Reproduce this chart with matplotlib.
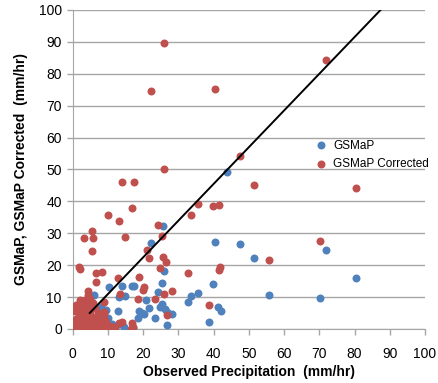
import numpy as np
import matplotlib
matplotlib.use("Agg")
import matplotlib.pyplot as plt

plt.rcParams['font.family'] = ['Liberation Sans', 'DejaVu Sans']

# GSMaP (blue)
gsmap_x = [43.7, 25.7, 22.1, 40.4, 47.4, 71.8, 51.5, 80.3, 55.8, 70.2,
           25.8, 10.4, 13.9, 16.8, 17.4, 25.3, 24.2, 39.8, 35.5, 33.5,
           32.6, 5.9, 14.9, 13.1, 20.8, 25.3, 24.8, 21.5, 26.2, 26.7,
           41.3, 42.0, 18.7, 19.5, 20.3, 18.4, 12.7, 28.1, 23.3, 38.8,
           26.8, 13.5, 14.5, 17.0, 3.0, 5.0, 7.5, 6.0, 8.0, 10.0,
           9.5, 11.0, 4.5, 2.0, 12.0]
gsmap_y = [49.3, 32.4, 27.1, 27.3, 26.7, 24.8, 22.4, 16.0, 10.7, 9.8,
           18.2, 13.1, 13.5, 13.6, 13.5, 14.4, 11.7, 14.0, 11.3, 10.2,
           8.5, 10.6, 10.3, 9.9, 9.0, 7.8, 7.0, 6.5, 6.2, 5.4,
           6.8, 5.6, 5.7, 4.9, 4.7, 3.3, 5.6, 4.6, 3.5, 2.2,
           1.3, 1.5, 0.6, 0.4, 4.0, 6.5, 4.5, 3.0, 7.0, 3.5,
           6.0, 1.5, 8.5, 5.0, 0.5]

# GSMaP Corrected (red)
corr_x = [25.8, 22.2, 40.4, 71.9, 47.5, 25.9, 14.0, 17.4, 51.5, 80.3,
          16.8, 35.4, 39.9, 41.5, 10.1, 13.2, 24.2, 33.5, 5.5, 3.1,
          5.8, 14.8, 25.3, 5.5, 21.0, 21.6, 70.2, 55.8, 25.5, 26.5,
          1.6, 2.1, 24.8, 41.9, 41.4, 6.6, 8.2, 32.6, 12.8, 18.7,
          6.5, 20.1, 19.9, 4.3, 28.1, 4.4, 13.3, 25.9, 23.4, 18.5,
          2.1, 3.0, 8.9, 38.8, 5.7, 26.8, 8.9, 8.8, 2.1, 13.0,
          14.0, 16.8, 16.5, 17.1,
          0.5, 1.0, 1.5, 2.0, 2.5, 3.0, 3.5, 4.0, 4.5, 5.0,
          5.5, 6.0, 6.5, 7.0, 7.5, 8.0, 8.5, 9.0, 9.5, 10.0,
          10.5, 11.0, 11.5, 12.0, 0.3, 0.8, 1.2, 1.8, 2.2, 2.8,
          3.3, 3.8, 4.2, 4.8, 5.2, 6.2, 6.8, 7.2, 1.0, 2.5,
          4.0, 0.5, 1.5, 3.5, 5.0, 2.0, 6.0, 7.8, 9.2, 0.2,
          3.0, 6.0, 9.0]
corr_y = [89.6, 74.7, 75.2, 84.3, 54.2, 50.2, 46.0, 46.2, 45.1, 44.1,
          37.8, 39.1, 38.7, 38.8, 35.6, 33.8, 32.7, 35.7, 30.8, 28.6,
          28.6, 28.7, 29.2, 24.5, 24.8, 22.4, 27.6, 21.6, 22.5, 21.0,
          19.5, 18.7, 19.1, 19.3, 18.6, 17.5, 18.0, 17.5, 15.9, 16.2,
          14.6, 13.3, 12.3, 11.9, 12.0, 10.8, 10.9, 11.0, 9.5, 9.4,
          9.1, 8.6, 8.5, 7.5, 8.0, 4.4, 5.4, 4.8, 6.5, 1.8,
          2.1, 2.0, 0.1, 0.5,
          0.2, 0.5, 1.0, 0.3, 1.5, 0.8, 2.2, 0.4, 1.2, 0.6,
          2.0, 0.3, 1.4, 0.8, 2.5, 0.2, 1.0, 0.5, 1.8, 0.3,
          0.8, 0.2, 0.5, 0.1, 1.8, 3.0, 2.5, 4.0, 3.3, 5.0,
          4.2, 6.0, 3.0, 5.5, 4.0, 6.5, 3.5, 5.0, 7.5, 7.0,
          7.5, 5.5, 6.0, 9.0, 9.3, 2.0, 2.8, 1.5, 2.8, 0.0,
          0.0, 0.0, 0.0]

# trend line
line_slope = 1.15
line_icept = -0.5
line_x0 = 4.8

blue = '#4F81BD'
red = '#C0504D'

fig = plt.figure(figsize=(4.39, 3.83), dpi=100)
ax = fig.add_axes([0.166, 0.141, 0.802, 0.833])

ax.scatter(gsmap_x, gsmap_y, s=33, color=blue, label='GSMaP', zorder=3, linewidths=0)
ax.scatter(corr_x, corr_y, s=33, color=red, label='GSMaP Corrected', zorder=4, linewidths=0)

lx = np.array([line_x0, (100 - line_icept) / line_slope])
ax.plot(lx, line_slope * lx + line_icept, color='black', lw=1.4, zorder=5)

ax.set_xlim(0, 100)
ax.set_ylim(0, 100)
ax.set_xticks(np.arange(0, 101, 10))
ax.set_yticks(np.arange(0, 101, 10))
ax.yaxis.grid(True, color='#A6A6A6', lw=1.0)
ax.set_axisbelow(True)
for s in ['top', 'right']:
    ax.spines[s].set_visible(False)
for s in ['left', 'bottom']:
    ax.spines[s].set_color('#A6A6A6')
ax.tick_params(axis='both', labelsize=10, color='#A6A6A6', length=4, width=1)
ax.tick_params(axis='x', pad=9)
ax.tick_params(axis='y', pad=4)

ax.set_xlabel('Observed Precipitation  (mm/hr)', fontsize=10, fontweight='bold', labelpad=2.5)
ax.set_ylabel('GSMaP, GSMaP Corrected  (mm/hr)', fontsize=10, fontweight='bold', labelpad=8)

ax.legend(loc='center left', bbox_to_anchor=(0.655, 0.546), frameon=False, fontsize=8.5,
          handletextpad=0.0, labelspacing=0.55, markerscale=1.0, borderpad=0)

fig.savefig('out.png', dpi=100)
